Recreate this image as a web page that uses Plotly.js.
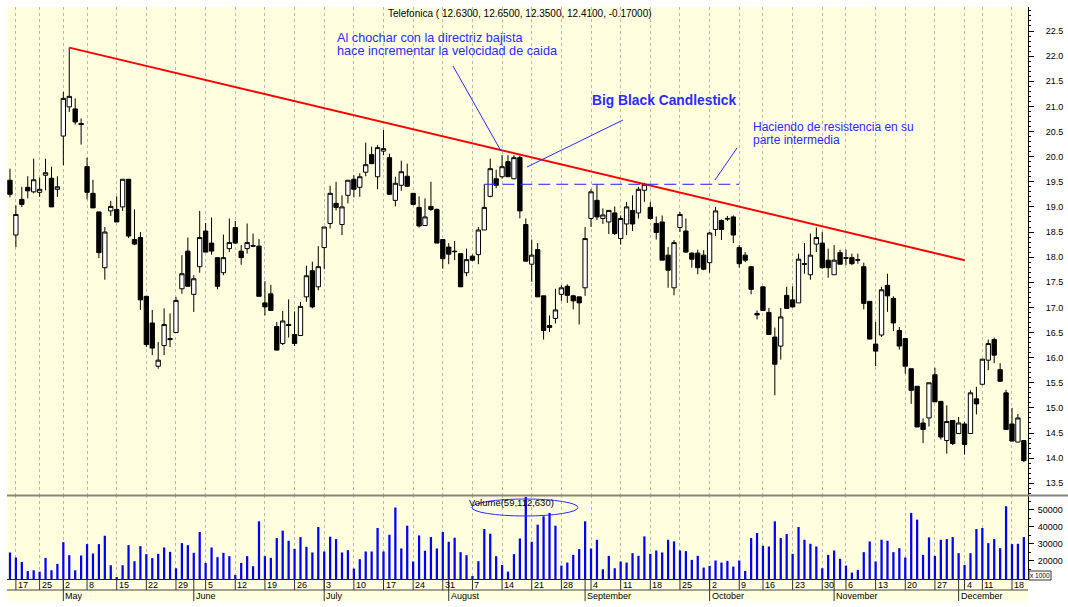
<!DOCTYPE html>
<html><head><meta charset="utf-8">
<script src="https://cdn.plot.ly/plotly-3.0.1.min.js"></script>
<style>html,body{margin:0;padding:0;background:#fff}#chart{width:1068px;height:607px}</style>
</head><body><div id="chart"></div>
<script>
// ---- data (trading days, year 2000) ----
const dates = [
'2000-04-14','2000-04-17','2000-04-18','2000-04-19','2000-04-20','2000-04-25','2000-04-26','2000-04-27','2000-04-28',
'2000-05-02','2000-05-03','2000-05-04','2000-05-05','2000-05-08','2000-05-09','2000-05-10','2000-05-11','2000-05-12',
'2000-05-15','2000-05-16','2000-05-17','2000-05-18','2000-05-19','2000-05-22','2000-05-23','2000-05-24','2000-05-25','2000-05-26',
'2000-05-29','2000-05-30','2000-05-31','2000-06-01','2000-06-02','2000-06-05','2000-06-06','2000-06-07','2000-06-08','2000-06-09',
'2000-06-12','2000-06-13','2000-06-14','2000-06-15','2000-06-16','2000-06-19','2000-06-20','2000-06-21','2000-06-22','2000-06-23',
'2000-06-26','2000-06-27','2000-06-28','2000-06-29','2000-06-30','2000-07-03','2000-07-04','2000-07-05','2000-07-06','2000-07-07',
'2000-07-10','2000-07-11','2000-07-12','2000-07-13','2000-07-14','2000-07-17','2000-07-18','2000-07-19','2000-07-20','2000-07-21',
'2000-07-24','2000-07-25','2000-07-26','2000-07-27','2000-07-28','2000-07-31','2000-08-01','2000-08-02','2000-08-03','2000-08-04',
'2000-08-07','2000-08-08','2000-08-09','2000-08-10','2000-08-11','2000-08-14','2000-08-15','2000-08-16','2000-08-17','2000-08-18',
'2000-08-21','2000-08-22','2000-08-23','2000-08-24','2000-08-25','2000-08-28','2000-08-29','2000-08-30','2000-08-31','2000-09-01',
'2000-09-04','2000-09-05','2000-09-06','2000-09-07','2000-09-08','2000-09-11','2000-09-12','2000-09-13','2000-09-14','2000-09-15',
'2000-09-18','2000-09-19','2000-09-20','2000-09-21','2000-09-22','2000-09-25','2000-09-26','2000-09-27','2000-09-28','2000-09-29',
'2000-10-02','2000-10-03','2000-10-04','2000-10-05','2000-10-06','2000-10-09','2000-10-10','2000-10-11','2000-10-13',
'2000-10-16','2000-10-17','2000-10-18','2000-10-19','2000-10-20','2000-10-23','2000-10-24','2000-10-25','2000-10-26','2000-10-27',
'2000-10-30','2000-10-31','2000-11-02','2000-11-03','2000-11-06','2000-11-07','2000-11-08','2000-11-09','2000-11-10',
'2000-11-13','2000-11-14','2000-11-15','2000-11-16','2000-11-17','2000-11-20','2000-11-21','2000-11-22','2000-11-23','2000-11-24',
'2000-11-27','2000-11-28','2000-11-29','2000-11-30','2000-12-01','2000-12-04','2000-12-05','2000-12-07',
'2000-12-11','2000-12-12','2000-12-13','2000-12-14','2000-12-15','2000-12-18','2000-12-19','2000-12-20'
];
const open = [19.53,18.44,19.15,19.39,19.30,19.29,19.63,19.57,19.35,
20.41,20.99,20.95,20.66,19.80,19.27,18.90,17.79,18.92,
18.95,19.00,19.55,18.35,18.39,17.22,16.69,15.83,16.24,16.38,
16.50,17.37,18.12,17.26,17.81,18.52,18.28,17.99,17.69,18.17,
18.59,18.12,18.17,18.23,18.22,17.09,17.27,16.62,16.28,16.66,
16.46,16.44,17.21,17.73,17.41,18.19,18.67,19.07,18.65,19.23,
19.55,19.39,19.69,20.04,19.60,20.11,19.98,19.13,19.43,19.61,
19.27,18.99,18.63,19.01,18.95,18.35,18.20,18.12,18.07,17.69,
18.02,18.05,18.54,19.21,19.56,19.60,19.90,19.56,19.98,18.65,
17.86,18.15,17.23,16.64,16.78,17.26,17.42,17.23,17.21,17.39,
18.77,19.13,18.77,18.70,18.88,18.37,18.66,18.93,18.88,19.33,
18.99,18.67,18.70,18.04,17.39,18.59,18.52,18.08,18.08,18.04,
17.89,18.55,18.73,18.77,18.80,18.19,18.04,17.81,16.88,
17.41,16.90,16.41,16.23,17.24,17.15,17.09,17.87,17.65,18.26,
18.28,17.94,17.65,18.09,17.99,17.99,17.95,17.81,17.12,
16.27,16.45,17.44,17.18,16.54,16.38,15.78,15.43,14.70,14.80,
15.66,15.13,14.35,14.75,14.49,14.68,14.49,15.18,
15.47,15.95,16.36,15.76,15.30,14.68,14.32,14.35];
const high = [19.76,19.03,19.40,19.61,19.96,19.58,19.96,19.80,19.61,
21.29,22.17,21.16,20.76,19.98,19.54,18.90,18.60,19.12,
19.21,19.55,19.55,18.95,18.50,17.22,16.95,16.31,16.98,16.88,
17.21,18.04,18.39,17.64,18.92,18.68,18.79,17.99,18.45,18.77,
18.72,18.24,18.67,18.47,18.36,17.52,17.45,16.71,16.93,17.16,
16.92,17.11,17.83,17.91,18.22,18.60,19.42,19.50,19.23,19.53,
19.63,19.67,20.28,20.20,20.23,20.53,20.06,19.60,19.92,19.86,
19.27,19.21,19.17,19.50,18.97,18.35,18.28,18.32,18.07,18.17,
18.05,18.60,19.45,19.96,19.74,20.03,20.03,20.03,20.02,18.77,
18.35,18.28,17.23,16.84,17.37,17.44,17.46,17.25,17.21,18.60,
19.35,19.45,18.97,18.93,19.01,18.83,19.10,19.23,19.40,19.48,
19.10,18.81,18.83,18.20,18.34,18.90,18.77,18.10,18.15,18.14,
18.50,19.00,18.75,18.82,18.83,18.24,18.10,17.81,16.94,
17.41,16.99,16.60,16.99,17.41,17.42,18.07,18.28,18.47,18.59,
18.50,18.17,18.24,18.15,18.15,18.07,18.07,17.89,17.12,
16.71,17.41,17.67,17.22,16.61,16.38,15.78,15.43,14.79,15.50,
15.80,15.13,15.05,14.75,14.82,14.72,15.35,15.42,
15.98,16.36,16.40,15.89,15.36,15.00,14.88,14.35];
const low = [19.19,18.20,19.00,19.17,19.27,19.20,19.33,19.00,19.20,
19.83,20.89,20.64,20.24,19.15,18.98,17.98,17.55,18.82,
18.70,18.92,18.38,18.24,16.95,16.21,16.05,15.78,16.05,16.21,
16.50,17.27,17.42,16.91,17.69,18.10,18.05,17.36,17.64,18.10,
18.27,17.85,18.07,18.20,17.22,16.84,16.94,16.15,16.25,16.40,
16.23,16.44,17.11,16.98,17.34,17.76,18.57,18.93,18.44,19.07,
19.19,19.20,19.61,19.86,19.35,20.03,19.25,19.01,19.32,19.40,
19.03,18.59,18.63,18.92,18.28,17.77,17.86,17.94,17.41,17.62,
17.92,17.86,18.54,19.19,19.37,19.56,19.60,19.55,18.77,17.92,
17.51,17.21,16.36,16.51,16.68,17.13,17.09,16.96,16.66,17.23,
18.60,18.74,18.66,18.46,18.44,18.25,18.44,18.52,18.77,19.10,
18.75,18.35,17.94,17.39,17.24,18.50,18.09,17.79,17.66,17.74,
17.69,18.42,18.34,18.72,18.28,17.79,17.90,17.26,16.76,
16.94,16.46,15.25,15.96,16.98,17.00,17.09,17.67,17.55,18.10,
17.77,17.59,17.65,17.86,17.84,17.84,17.87,16.96,16.36,
15.83,16.41,16.91,16.53,16.16,15.68,15.08,14.62,14.30,14.63,
15.12,14.37,14.09,14.26,14.49,14.07,14.49,14.87,
15.45,15.75,15.89,15.53,14.57,14.34,14.32,13.92];
const close = [19.25,18.85,19.05,19.32,19.54,19.35,19.68,19.00,19.40,
21.16,21.20,20.69,20.64,19.29,18.98,18.09,18.50,19.01,
18.70,19.55,18.42,18.26,17.15,16.26,16.19,15.95,16.66,16.36,
17.14,17.67,17.42,17.57,18.39,18.10,18.12,17.42,17.99,18.29,
18.28,17.99,18.29,18.22,17.22,17.01,16.94,16.15,16.73,16.64,
16.28,17.02,17.63,17.01,17.81,18.60,19.27,18.99,19.00,19.53,
19.35,19.60,19.84,19.86,20.18,20.16,19.25,19.47,19.70,19.41,
19.05,18.62,18.80,18.95,18.28,17.97,18.06,18.11,17.41,17.95,
17.94,18.54,18.99,19.76,19.43,19.80,19.60,19.98,18.92,17.92,
18.04,17.21,16.54,16.60,16.95,17.39,17.24,17.13,17.09,18.37,
19.30,18.80,18.84,18.93,18.47,18.77,19.00,18.66,19.35,19.45,
18.77,18.49,17.94,17.74,18.29,18.85,18.10,17.96,17.79,17.76,
18.48,18.92,18.55,18.76,18.44,17.87,17.94,17.36,16.85,
16.94,16.46,15.87,16.81,16.98,17.01,17.96,17.86,18.04,18.39,
17.79,17.79,17.94,17.86,17.98,17.87,17.94,17.08,16.37,
16.13,17.35,17.23,16.69,16.23,15.83,15.35,14.62,14.57,15.50,
15.12,14.42,14.73,14.29,14.70,14.27,15.30,15.08,
15.97,16.28,16.05,15.53,14.57,14.34,14.80,13.95];
const volume = [24938,21980,19417,14000,14487,13698,21783,14487,18234,
31052,23361,14487,23164,29868,24347,29868,34798,17445,
10500,17445,29277,19811,28685,23952,21586,24150,27897,25333,
15670,30460,29277,24741,36968,18825,27897,22178,24741,22769,
11726,18825,22769,16853,43278,22769,21783,33418,37757,31840,
27108,34010,28291,24938,39926,25530,34207,32826,24938,26319,
15473,20994,25530,25530,39334,25530,35390,51363,27305,40714,
19614,34995,25924,34010,27305,36968,31249,33615,25136,23361,
11134,19811,38742,35981,22769,17642,13698,23952,33221,57500,
31249,41306,46236,48208,40714,17248,19022,23558,26910,43278,
27305,32432,15078,22966,15670,19614,19022,24544,22966,34404,
24150,26122,24938,32432,31446,26122,25727,20600,22966,16064,
17050,20206,19022,20008,16656,20206,14092,33418,36376,
28882,28488,43278,33418,35784,24150,39926,32432,30066,28488,
15670,23558,26122,21192,17248,13106,14684,25136,31446,
19614,32432,31840,25136,27502,21980,48208,44264,23558,33812,
22966,32432,32826,34010,24544,17642,24544,38742,
39334,30460,32826,27502,52152,29868,30066,34010];
const monthNames = ['January','February','March','April','May','June','July','August','September','October','November','December'];
const titleText = 'Telefonica ( 12.6300, 12.6500, 12.3500, 12.4100, -0.17000)';
const trendDates = ['2000-05-03','2000-12-04'];
const trendPrices = [22.17, 17.94];
const resistDates = ['2000-08-09','2000-10-09'];
const resistPrice = [19.45, 19.45];
const priceTicks = [13.5,14.0,14.5,15.0,15.5,16.0,16.5,17.0,17.5,18.0,18.5,19.0,19.5,20.0,20.5,21.0,21.5,22.0,22.5];
const volTicks = [20000,30000,40000,50000];

// ---- geometry helpers (pixel -> paper) ----
const L = 7, T = 7, W = 1021, H = 572;
const px = x => (x - L) / W;
const py = y => 1 - (y - T) / H;
const idx = d => dates.indexOf(d);
const xs = dates.map((d, i) => i);

// week starts and month starts
const weekStarts = [], monthStarts = [];
dates.forEach((d, i) => {
  const dt = new Date(d + 'T00:00:00Z');
  if (i > 0) {
    const prev = new Date(dates[i - 1] + 'T00:00:00Z');
    if (dt.getUTCDay() < prev.getUTCDay() || (dt - prev) > 5 * 86400000) weekStarts.push(i);
    if (dt.getUTCMonth() !== prev.getUTCMonth()) monthStarts.push(i);
  }
});

const BLUE = '#2b2bff';
const shapes = [
  {type:'rect', xref:'paper', yref:'paper', x0:px(7), x1:px(1028), y0:py(601), y1:py(579), fillcolor:'#FFFFE0', line:{width:0}, layer:'below'},
  {type:'line', xref:'paper', yref:'paper', x0:px(7), x1:px(1028), y0:py(590), y1:py(590), line:{color:'#444', width:1}},
  {type:'line', xref:'paper', yref:'paper', x0:px(7), x1:px(1068), y0:py(495.5), y1:py(495.5), line:{color:'#85857a', width:2}},
  {type:'line', xref:'x', yref:'y', x0:idx(trendDates[0]), y0:trendPrices[0], x1:idx(trendDates[1]), y1:trendPrices[1], line:{color:'#ff0000', width:2}},
  {type:'line', xref:'x', yref:'y', x0:idx(resistDates[0]), y0:resistPrice[0], x1:idx(resistDates[1]), y1:resistPrice[1], line:{color:'#1f1fff', width:1, dash:'12px,6px'}},
  {type:'line', xref:'paper', yref:'paper', x0:px(453), y0:py(66), x1:px(501), y1:py(151), line:{color:BLUE, width:1}},
  {type:'line', xref:'paper', yref:'paper', x0:px(623), y0:py(120), x1:px(527), y1:py(167), line:{color:BLUE, width:1}},
  {type:'line', xref:'paper', yref:'paper', x0:px(737), y0:py(148), x1:px(715), y1:py(180), line:{color:BLUE, width:1}},
  {type:'circle', xref:'paper', yref:'paper', x0:px(472), x1:px(578), y0:py(516), y1:py(499), line:{color:BLUE, width:1}},
  {type:'rect', xref:'paper', yref:'paper', x0:px(1029), x1:px(1051), y0:py(580), y1:py(571), line:{color:'#333', width:1}, fillcolor:'#fff'}
];
weekStarts.forEach(i => shapes.push({type:'line', xref:'x', yref:'paper', x0:i, x1:i, y0:py(579), y1:py(590), line:{color:'#333', width:1}}));
monthStarts.forEach(i => shapes.push({type:'line', xref:'x', yref:'paper', x0:i, x1:i, y0:py(579), y1:py(601), line:{color:'#333', width:1}}));

const F = 'Liberation Sans, Arial, sans-serif';
const annotations = [
  {xref:'paper', yref:'paper', x:px(386), y:py(14), xanchor:'left', yanchor:'middle', showarrow:false, text:titleText, font:{family:F, size:10, color:'#000'}},
  {xref:'paper', yref:'paper', x:px(335), y:py(38), xanchor:'left', yanchor:'middle', showarrow:false, text:'Al chochar con la directriz bajista', font:{family:F, size:12.7, color:BLUE}},
  {xref:'paper', yref:'paper', x:px(335), y:py(51), xanchor:'left', yanchor:'middle', showarrow:false, text:'hace incrementar la velocidad de caida', font:{family:F, size:12.7, color:BLUE}},
  {xref:'paper', yref:'paper', x:px(590), y:py(100), xanchor:'left', yanchor:'middle', showarrow:false, text:'<b>Big Black Candlestick</b>', font:{family:F, size:13.8, color:BLUE}},
  {xref:'paper', yref:'paper', x:px(751), y:py(127), xanchor:'left', yanchor:'middle', showarrow:false, text:'Haciendo de resistencia en su', font:{family:F, size:12, color:BLUE}},
  {xref:'paper', yref:'paper', x:px(751), y:py(140), xanchor:'left', yanchor:'middle', showarrow:false, text:'parte intermedia', font:{family:F, size:12, color:BLUE}},
  {xref:'paper', yref:'paper', x:px(467), y:py(502), xanchor:'left', yanchor:'middle', showarrow:false, text:'Volume(59,112,630)', font:{family:F, size:9.5, color:'#000'}},
  {xref:'paper', yref:'paper', x:px(1040), y:py(575.5), xanchor:'center', yanchor:'middle', showarrow:false, text:'x 1000', font:{family:F, size:6.5, color:'#000'}}
];
weekStarts.forEach(i => annotations.push({xref:'x', yref:'paper', x:i, y:py(585), xanchor:'left', yanchor:'middle', xshift:0, showarrow:false,
  text:String(new Date(dates[i] + 'T00:00:00Z').getUTCDate()), font:{family:F, size:9, color:'#000'}}));
monthStarts.forEach(i => annotations.push({xref:'x', yref:'paper', x:i, y:py(596), xanchor:'left', yanchor:'middle', xshift:0, showarrow:false,
  text:monthNames[new Date(dates[i] + 'T00:00:00Z').getUTCMonth()], font:{family:F, size:9, color:'#000'}}));

const traces = [
  {type:'candlestick', x:xs, open:open, high:high, low:low, close:close, xaxis:'x', yaxis:'y', whiskerwidth:0,
   increasing:{line:{color:'#000', width:1}, fillcolor:'#ffffff'},
   decreasing:{line:{color:'#000', width:1}, fillcolor:'#000000'}, hoverinfo:'none', showlegend:false},
  {type:'bar', x:xs, y:volume, xaxis:'x', yaxis:'y2', width:0.38, marker:{color:'#0000ff', line:{width:0}}, hoverinfo:'none', showlegend:false}
];

const layout = {
  width:1068, height:607, margin:{l:L, r:1068 - L - W, t:T, b:607 - T - H, pad:0},
  paper_bgcolor:'#ffffff', plot_bgcolor:'#FFFFE0', showlegend:false,
  boxgap:0.27, boxgroupgap:0,
  xaxis:{anchor:'y2', range:[-0.5, 171.7], tickvals:weekStarts, showticklabels:false, ticks:'',
         showgrid:true, gridcolor:'#b9b9b0', griddash:'3px,3px', gridwidth:1, zeroline:false,
         showline:true, linecolor:'#222', linewidth:1, rangeslider:{visible:false}, fixedrange:true},
  yaxis:{domain:[0.1460, 1], anchor:'x', side:'right', range:[13.257, 22.978], tickvals:priceTicks, tickformat:'.1f',
         ticks:'outside', ticklen:5, tickcolor:'#000', tickwidth:1, ticklabelstandoff:10,
         minor:{dtick:0.1, tick0:13.5, ticks:'outside', ticklen:2, tickcolor:'#000', showgrid:false},
         showline:true, linecolor:'#000', linewidth:1, showgrid:false, zeroline:false,
         tickfont:{family:F, size:9, color:'#000'}, fixedrange:true},
  yaxis2:{domain:[0, 0.1460], anchor:'x', side:'right', range:[9349, 58460], tickvals:volTicks, tickformat:'d',
         ticks:'outside', ticklen:5, tickcolor:'#000', tickwidth:1, ticklabelstandoff:2,
         minor:{dtick:5000, ticks:'outside', ticklen:2, tickcolor:'#000', showgrid:false},
         showline:true, linecolor:'#000', linewidth:1, showgrid:false, zeroline:false,
         tickfont:{family:F, size:9, color:'#000'}, fixedrange:true},
  shapes:shapes, annotations:annotations
};
Plotly.newPlot('chart', traces, layout, {staticPlot:true, displayModeBar:false});
</script>
</body></html>
